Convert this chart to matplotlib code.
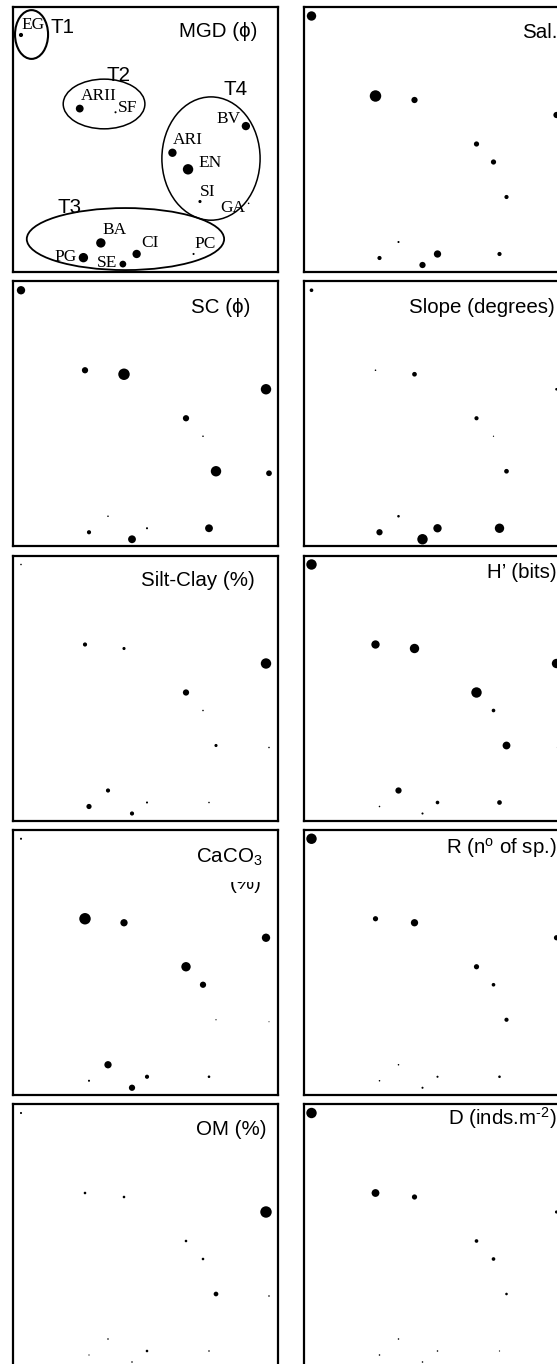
import numpy as np
import matplotlib.pyplot as plt
from matplotlib.patches import Ellipse
from matplotlib.transforms import Bbox, TransformedBbox

plt.rcParams['font.family'] = ['Liberation Sans', 'DejaVu Sans']
plt.rcParams['mathtext.fontset'] = 'custom'
plt.rcParams['mathtext.rm'] = 'Liberation Sans'
plt.rcParams['mathtext.it'] = 'Liberation Sans:italic'

# sites and their ordination coordinates
sites = ['EG', 'ARII', 'SF', 'BV', 'ARI', 'EN', 'SI', 'GA', 'BA', 'PG', 'CI', 'PC', 'SE']
x = [-1.245, -0.605, -0.215, 1.205, 0.405, 0.575, 0.705, 1.235, -0.375, -0.565, 0.015, 0.635, -0.135]
y = [1.235, 0.435, 0.395, 0.245, -0.045, -0.225, -0.575, -0.595, -1.025, -1.185, -1.145, -1.145, -1.255]

# relative magnitude of each variable per site (bubble size)
mgd = [4, 7.5, 2, 8, 8, 10, 3, 1.5, 9, 9, 8, 2, 6.5]
sal = [9, 11, 6, 6, 5, 5, 4, 3, 2, 4, 7, 4, 6]
sc = [8, 6, 11, 10, 6, 1.5, 10, 5.5, 1.5, 4, 2, 7.5, 7.5]
slope = [3.5, 1.5, 4.5, 2.5, 4, 1.2, 4.5, 2, 2.5, 6, 8, 9, 10]
silt_clay = [1.5, 4, 3, 10, 6, 1.5, 3, 1.5, 4, 5, 2, 1.5, 4]
h_bits = [10, 8, 9, 9, 10, 3.5, 7.5, 5, 6, 1.5, 3.5, 4.5, 2]
caco3 = [2, 11, 7, 8, 9, 6, 1.2, 1, 7, 2, 4, 2.5, 6]
rich = [10, 5, 7, 5, 5, 3.5, 4, 3, 1.5, 1.5, 2, 2.5, 2]
om = [2, 2.5, 2.5, 11, 2.5, 2.5, 4.5, 1.5, 1.5, 1.2, 2.5, 1.5, 1.5]
dens = [10, 7.5, 5, 3, 3.5, 3.5, 2.5, 2, 1.5, 1.5, 1.5, 1.2, 1.5]

titles = ['MGD (\u03d5)', 'Sal.', 'SC (\u03d5)', 'Slope (degrees)', 'Silt-Clay (%)',
          'H\u2019 (bits)', 'CaCO$_{\\mathrm{3}}$', 'R (n$^{\\mathrm{o}}$ of sp.)', 'OM (%)',
          'D (inds.m$^{\\text{-2}}$)']
values = [mgd, sal, sc, slope, silt_clay, h_bits, caco3, rich, om, dens]

# groups drawn on the MGD panel
groups = ['T1', 'T2', 'T3', 'T4']
group_ell = [(-1.13, 1.24, 0.36, 0.53), (-0.34, 0.485, 0.89, 0.54),
             (-0.107, -0.983, 2.15, 0.674), (0.825, -0.108, 1.07, 1.34)]
group_lw = [1.5, 1.1, 1.3, 1.1]
group_txt = [(-0.926, 1.253), (-0.308, 0.735), (-0.845, -0.703), (0.963, 0.582)]

# label offsets (pixels) for the site names
lab_off = {'EG': (0.7, 5.7, 'left'), 'ARII': (0.7, 8.3, 'left'), 'SF': (2.4, 0, 'left'),
           'BV': (-5, 2.7, 'right'), 'ARI': (0.7, 8.3, 'left'), 'EN': (10.7, 2.3, 'left'),
           'SI': (0.3, 5.3, 'left'), 'GA': (-3.3, -8.3, 'right'), 'BA': (2, 9.3, 'left'),
           'CI': (4.3, 6.7, 'left'), 'PC': (1, 5.7, 'left'), 'PG': (-6.7, -3.3, 'right'),
           'SE': (-5.3, -2.7, 'right')}

# title placement: px from right edge, px of baseline below top
title_pos = [(21, 30), (11.5, 31), (28, 32), (13.5, 32), (23, 31),
             (12, 22), (16, 33), (12, 24), (12, 31), (12, 21)]

W, H = 557, 1364
fig = plt.figure(figsize=(W / 100, H / 100), dpi=100)
size = 265
lefts = [13, 303.5]

for i in range(10):
    r, c = i // 2, i % 2
    top = 7 + r * 274.25
    ax = fig.add_axes([lefts[c] / W, 1 - (top + size) / H, size / W, size / H])
    area = (0.75 * np.array(values[i])) ** 2
    ax.scatter(x, y, s=area, c='black', linewidths=0, zorder=3, clip_on=False)
    if i == 0:
        ax.set_xlim(-1.332, 1.555)
        ax.set_ylim(-1.341, 1.539)
    else:
        ax.set_xlim(-1.325, 1.325)
        ax.set_ylim(-1.325, 1.325)
    ax.set_xticks([])
    ax.set_yticks([])
    for sp in ax.spines.values():
        sp.set_linewidth(1.6)
    rx, by = title_pos[i]
    ax.text(1 - rx / size, 1 - by / size, titles[i], transform=ax.transAxes,
            ha='right', va='baseline', fontsize=14.8)
    if i == 6:
        t = ax.text(1 - rx / size, 1 - (by + 26) / size, '(%)', transform=ax.transAxes,
                    ha='right', va='baseline', fontsize=14.8, clip_on=True)
        t.set_clip_box(TransformedBbox(Bbox([[0, 0], [1, 1 - 52 / size]]), ax.transAxes))
    if i == 0:
        for s, xi, yi in zip(sites, x, y):
            dx, dy, ha = lab_off[s]
            ax.annotate(s, (xi, yi), xytext=(dx, dy), textcoords='offset pixels',
                        ha=ha, va='baseline', fontsize=12.5, family='Liberation Serif')
        for g, (cx, cy, ew, eh), lw, (tx, ty) in zip(groups, group_ell, group_lw, group_txt):
            ax.add_patch(Ellipse((cx, cy), ew, eh, fill=False, edgecolor='black', linewidth=lw))
            ax.text(tx, ty, g, ha='left', va='baseline', fontsize=14.8)

fig.savefig('out.png', dpi=100)
